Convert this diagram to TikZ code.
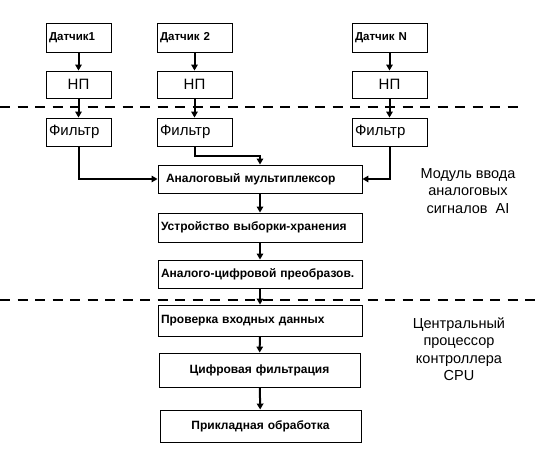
\documentclass[tikz,border=0pt]{standalone}
\usepackage{fontspec}
\setmainfont{Liberation Sans}
\usetikzlibrary{arrows.meta}
\begin{document}
\begin{tikzpicture}[x=1pt,y=-1pt,
  cell/.style={draw,line width=0.9pt,inner xsep=3pt,inner ysep=0pt,align=left},
  sensor/.style={cell,font=\fontsize{11.5}{13}\selectfont\bfseries},
  stage/.style={cell,font=\fontsize{15}{17}\selectfont},
  chain/.style={cell,text width=198pt,font=\fontsize{12}{14}\selectfont\bfseries},
  arr/.style={line width=2pt,-{Triangle[length=6pt,width=6.5pt]}},
  sep/.style={line width=1.8pt,dash pattern=on 10pt off 7.5pt},
  side/.style={align=center,font=\fontsize{14.5}{17.5}\selectfont}]
  \useasboundingbox (0,0) rectangle (536,454);
  % sensors
  \node[sensor,text width=59pt,minimum height=29pt] (dat1) at (78.5,37.5) {Датчик1};
  \node[sensor,text width=69pt,minimum height=29pt] (dat2) at (194.5,37.5) {Датчик 2};
  \node[sensor,text width=69pt,minimum height=29pt] (datN) at (389.5,37.5) {Датчик N};
  % normalising converters
  \node[stage,text width=59pt,align=center,minimum height=27pt] (np1) at (78.5,84.5) {НП};
  \node[stage,text width=69pt,align=center,minimum height=27pt] (np2) at (194.5,84.5) {НП};
  \node[stage,text width=69pt,align=center,minimum height=27pt] (npN) at (389.5,84.5) {НП};
  % filters
  \node[stage,text width=59pt,minimum height=28pt] (flt1) at (78.5,132) {Фильтр};
  \node[stage,text width=69pt,minimum height=28pt] (flt2) at (194.5,132) {Фильтр};
  \node[stage,text width=69pt,minimum height=28pt] (fltN) at (389.5,132) {Фильтр};
  % AI module chain
  \node[chain,minimum height=28pt] (mux) at (260,179) {\hspace*{5pt}Аналоговый мультиплексор};
  \node[chain,minimum height=29pt] (uvh) at (260,227.5) {Устройство выборки-хранения};
  \node[chain,minimum height=28pt] (adc) at (260,274) {Аналого-цифровой преобразов.};
  % CPU chain
  \node[chain,minimum height=31pt] (check) at (260,320.5) {Проверка входных данных};
  \node[chain,text width=195pt,align=center,minimum height=34pt] (dfilt) at (259.5,370) {Цифровая фильтрация};
  \node[chain,text width=195pt,align=center,minimum height=32pt] (appl) at (260.5,426) {Прикладная обработка};
  % side labels
  \node[side] (ai) at (468,191) {Модуль ввода\\аналоговых\\сигналов\ \ AI};
  \node[side] (cpu) at (459,349) {Центральный\\процессор\\контроллера\\CPU};
  % borders
  \draw[sep] (0,107) -- (525,107);
  \draw[sep] (0,300) -- (536,300);
  % connectors
  \foreach \i in {1,2,N} {
    \draw[arr] (dat\i) -- (np\i);
    \draw[arr] (np\i) -- (flt\i);
  }
  \draw[arr] (flt1.south) |- (mux.west);
  \draw[arr] (flt2.south) -- ++(0,10) -| (mux.north);
  \draw[arr] (fltN.south) |- (mux.east);
  \draw[arr] (mux) -- (uvh);
  \draw[arr] (uvh) -- (adc);
  \draw[arr] (adc) -- (check);
  \draw[arr] (check) -- (dfilt);
  \draw[arr] (dfilt) -- (appl);
\end{tikzpicture}
\end{document}
